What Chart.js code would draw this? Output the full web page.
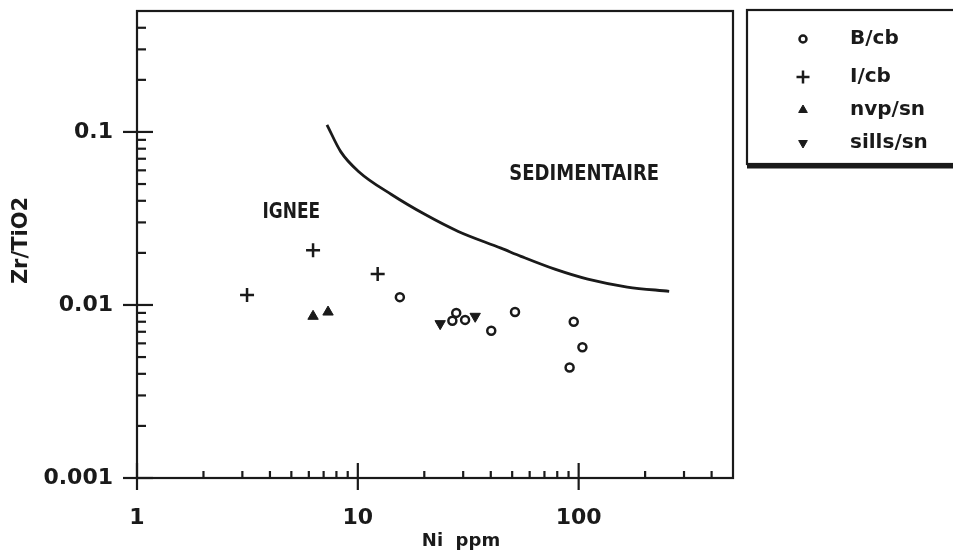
<!DOCTYPE html>
<html>
<head>
<meta charset="utf-8">
<script src="https://cdn.jsdelivr.net/npm/chart.js@4/dist/chart.umd.min.js"></script>
<style>
  html, body { margin: 0; padding: 0; background: #fff; }
  #wrap { width: 953px; height: 556px; }
</style>
</head>
<body>
<div id="wrap"><canvas id="chart"></canvas></div>
<script>
// Ni ppm (x) vs Zr/TiO2 (y), log-log
const niBcb = [15.5, 27.9, 26.8, 30.6, 40.2, 51.5, 95, 104, 91];
const zrBcb = [0.0111, 0.0090, 0.0081, 0.0082, 0.0071, 0.0091, 0.0080, 0.0057, 0.00435];

const niIcb = [3.15, 6.27, 12.3];
const zrIcb = [0.0114, 0.0207, 0.0151];

const niNvp = [6.27, 7.33];
const zrNvp = [0.0086, 0.0091];

const niSills = [23.6, 34];
const zrSills = [0.0078, 0.0086];

// boundary igneous / sedimentary
const niCurve = [7.25, 8.38, 10.1, 14.2, 20.2, 28.5, 44.5, 54.8, 78, 110, 166, 257];
const zrCurve = [0.110, 0.0767, 0.0589, 0.0435, 0.0333, 0.0266, 0.0213, 0.0191, 0.0161, 0.0141, 0.0127, 0.0120];

const xMajor = [1, 10, 100];
const xMinor = [2, 3, 4, 5, 6, 7, 8, 9, 20, 30, 40, 50, 60, 70, 80, 90, 200, 300, 400];
const yMajor = [0.001, 0.01, 0.1];
const yMinor = [0.002, 0.003, 0.004, 0.005, 0.006, 0.007, 0.008, 0.009,
  0.02, 0.03, 0.04, 0.05, 0.06, 0.07, 0.08, 0.09, 0.2, 0.3, 0.4];
const xTickLabels = ["1", "10", "100"];
const yTickLabels = ["0.001", "0.01", "0.1"];

const ink = "#1a1a1a";
const FONT = '"DejaVu Sans"';

const toPts = (xs, ys) => xs.map((v, i) => ({ x: v, y: ys[i] }));

const datasets = [
  {
    label: "B/cb",
    data: toPts(niBcb, zrBcb),
    pointStyle: "circle",
    pointRadius: 4,
    pointBorderWidth: 2.5,
    pointBackgroundColor: "#fff",
    pointBorderColor: ink,
  },
  {
    label: "I/cb",
    data: toPts(niIcb, zrIcb),
    pointStyle: "cross",
    pointRadius: 7,
    pointBorderWidth: 2.5,
    pointBorderColor: ink,
  },
  {
    label: "nvp/sn",
    data: toPts(niNvp, zrNvp),
    pointStyle: "triangle",
    pointRadius: 6,
    pointBorderWidth: 1,
    pointBackgroundColor: ink,
    pointBorderColor: ink,
  },
  {
    label: "sills/sn",
    data: toPts(niSills, zrSills),
    pointStyle: "triangle",
    pointRotation: 180,
    pointRadius: 6,
    pointBorderWidth: 1,
    pointBackgroundColor: ink,
    pointBorderColor: ink,
  },
  {
    label: "limite",
    data: toPts(niCurve, zrCurve),
    showLine: true,
    borderColor: ink,
    borderWidth: 2.8,
    pointRadius: 0,
    cubicInterpolationMode: "monotone",
  },
];

function line(ctx, x1, y1, x2, y2) {
  ctx.beginPath();
  ctx.moveTo(x1, y1);
  ctx.lineTo(x2, y2);
  ctx.stroke();
}

function text(ctx, str, x, y, size, align, sy) {
  ctx.save();
  ctx.translate(x, y);
  ctx.scale(1, sy || 1);
  ctx.font = "bold " + size + "px " + FONT;
  ctx.textAlign = align || "center";
  ctx.textBaseline = "middle";
  ctx.fillText(str, 0, 0);
  ctx.restore();
}

const frame = {
  id: "frame",
  afterDraw(chart) {
    const { ctx, chartArea: a, scales } = chart;
    const x = scales.x, y = scales.y;
    ctx.save();
    ctx.strokeStyle = ink;
    ctx.fillStyle = ink;
    ctx.lineWidth = 2.2;
    ctx.strokeRect(a.left, a.top, a.right - a.left, a.bottom - a.top);

    // ticks, pointing inward
    xMinor.forEach(v => {
      const px = x.getPixelForValue(v);
      line(ctx, px, a.bottom, px, a.bottom - 7);
    });
    xMajor.forEach((v, i) => {
      const px = x.getPixelForValue(v);
      line(ctx, px, a.bottom + 12, px, a.bottom - 15);
      text(ctx, xTickLabels[i], px, a.bottom + 40, 22);
    });
    yMinor.forEach(v => {
      const py = y.getPixelForValue(v);
      line(ctx, a.left, py, a.left + 9, py);
    });
    yMajor.forEach((v, i) => {
      const py = y.getPixelForValue(v);
      line(ctx, a.left - 14, py, a.left + 16, py);
      text(ctx, yTickLabels[i], a.left - 24, py, 22, "right");
    });

    // axis titles
    text(ctx, "Ni  ppm", 461, 541, 18);
    ctx.save();
    ctx.translate(22, (a.top + a.bottom) / 2 - 4);
    ctx.rotate(-Math.PI / 2);
    text(ctx, "Zr/TiO2", 0, 0, 21);
    ctx.restore();

    // field names
    text(ctx, "IGNEE", x.getPixelForValue(5), y.getPixelForValue(0.034), 17, "center", 1.2);
    text(ctx, "SEDIMENTAIRE", x.getPixelForValue(106), y.getPixelForValue(0.057), 18, "center", 1.15);

    // legend box
    const lx = 747, ly = 10, lb = 164;
    ctx.lineWidth = 2.2;
    ctx.strokeRect(lx, ly, 230, lb - ly);
    ctx.lineWidth = 5;
    line(ctx, lx, lb + 2, 960, lb + 2);
    const rows = [39, 77, 110, 143];
    datasets.slice(0, 4).forEach((ds, i) => {
      ctx.lineWidth = ds.pointBorderWidth;
      ctx.fillStyle = ds.pointBackgroundColor || ink;
      Chart.helpers.drawPoint(ctx, {
        pointStyle: ds.pointStyle,
        rotation: ds.pointRotation || 0,
        radius: ds.pointStyle === "cross" ? 6.5 : (ds.pointStyle === "circle" ? 3.5 : 5),
        borderWidth: ds.pointBorderWidth,
      }, 803, rows[i]);
      ctx.fillStyle = ink;
      text(ctx, ds.label, 850, rows[i], 20, "left");
    });
    ctx.restore();
  },
};

new Chart(document.getElementById("chart"), {
  type: "scatter",
  data: { datasets },
  options: {
    responsive: true,
    maintainAspectRatio: false,
    animation: false,
    layout: { padding: { left: 137, right: 220, top: 11, bottom: 78 } },
    scales: {
      x: { type: "logarithmic", min: 1, max: 500, display: false },
      y: { type: "logarithmic", min: 0.001, max: 0.5, display: false },
    },
    plugins: {
      legend: { display: false },
      tooltip: { enabled: false },
    },
  },
  plugins: [frame],
});
</script>
</body>
</html>
